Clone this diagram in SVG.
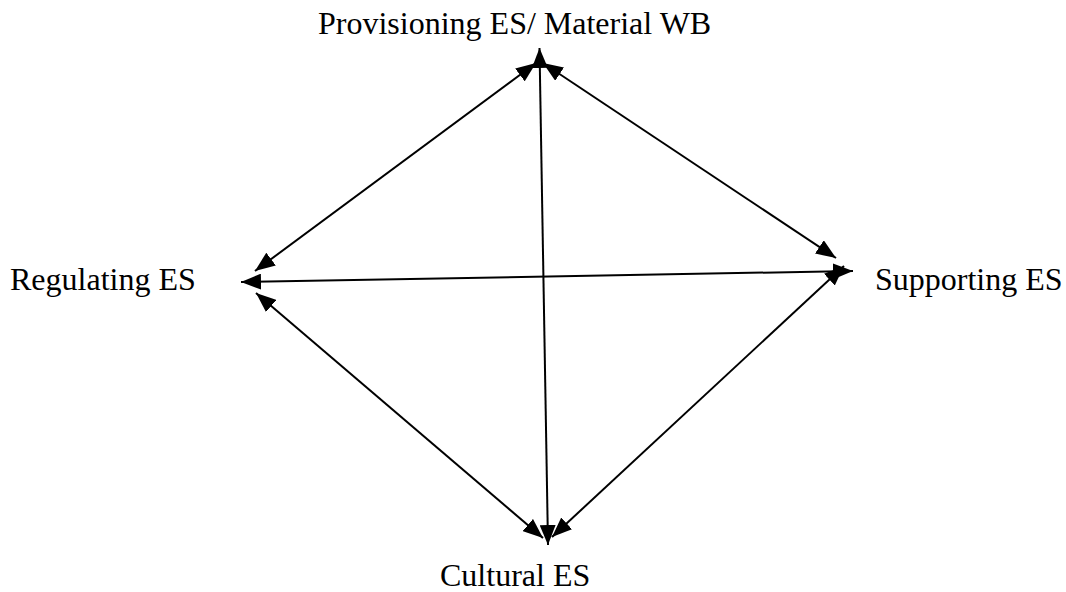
<svg xmlns="http://www.w3.org/2000/svg" width="1066" height="592" viewBox="0 0 1066 592">
<style>
.lbl{font-family:"Liberation Serif","Times New Roman",serif;font-size:32px;fill:#000}
.ln{stroke:#000;stroke-width:2;fill:none;marker-start:url(#ah);marker-end:url(#ah)}
</style>
<defs>
<marker id="ah" markerUnits="userSpaceOnUse" markerWidth="20" markerHeight="16" refX="20" refY="8" orient="auto-start-reverse" viewBox="0 0 20 16">
<path d="M0,0 L20,8 L0,16 z" fill="#000"/>
</marker>
</defs>
<rect width="1066" height="592" fill="#fff"/>
<g id="provisioning"><text class="lbl" x="318" y="34">Provisioning ES/ Material WB</text></g>
<g id="regulating"><text class="lbl" x="10" y="290">Regulating ES</text></g>
<g id="supporting"><text class="lbl" x="875" y="290">Supporting ES</text></g>
<g id="cultural"><text class="lbl" x="440" y="586">Cultural ES</text></g>
<g id="connectors">
<line class="ln" x1="539.5" y1="48" x2="548" y2="545"/>
<line class="ln" x1="241" y1="282" x2="853" y2="271"/>
<line class="ln" x1="255" y1="271" x2="536" y2="63"/>
<line class="ln" x1="543" y1="63" x2="836" y2="258"/>
<line class="ln" x1="256" y1="293" x2="543" y2="538"/>
<line class="ln" x1="844" y1="266" x2="552" y2="537"/>
</g>
</svg>
